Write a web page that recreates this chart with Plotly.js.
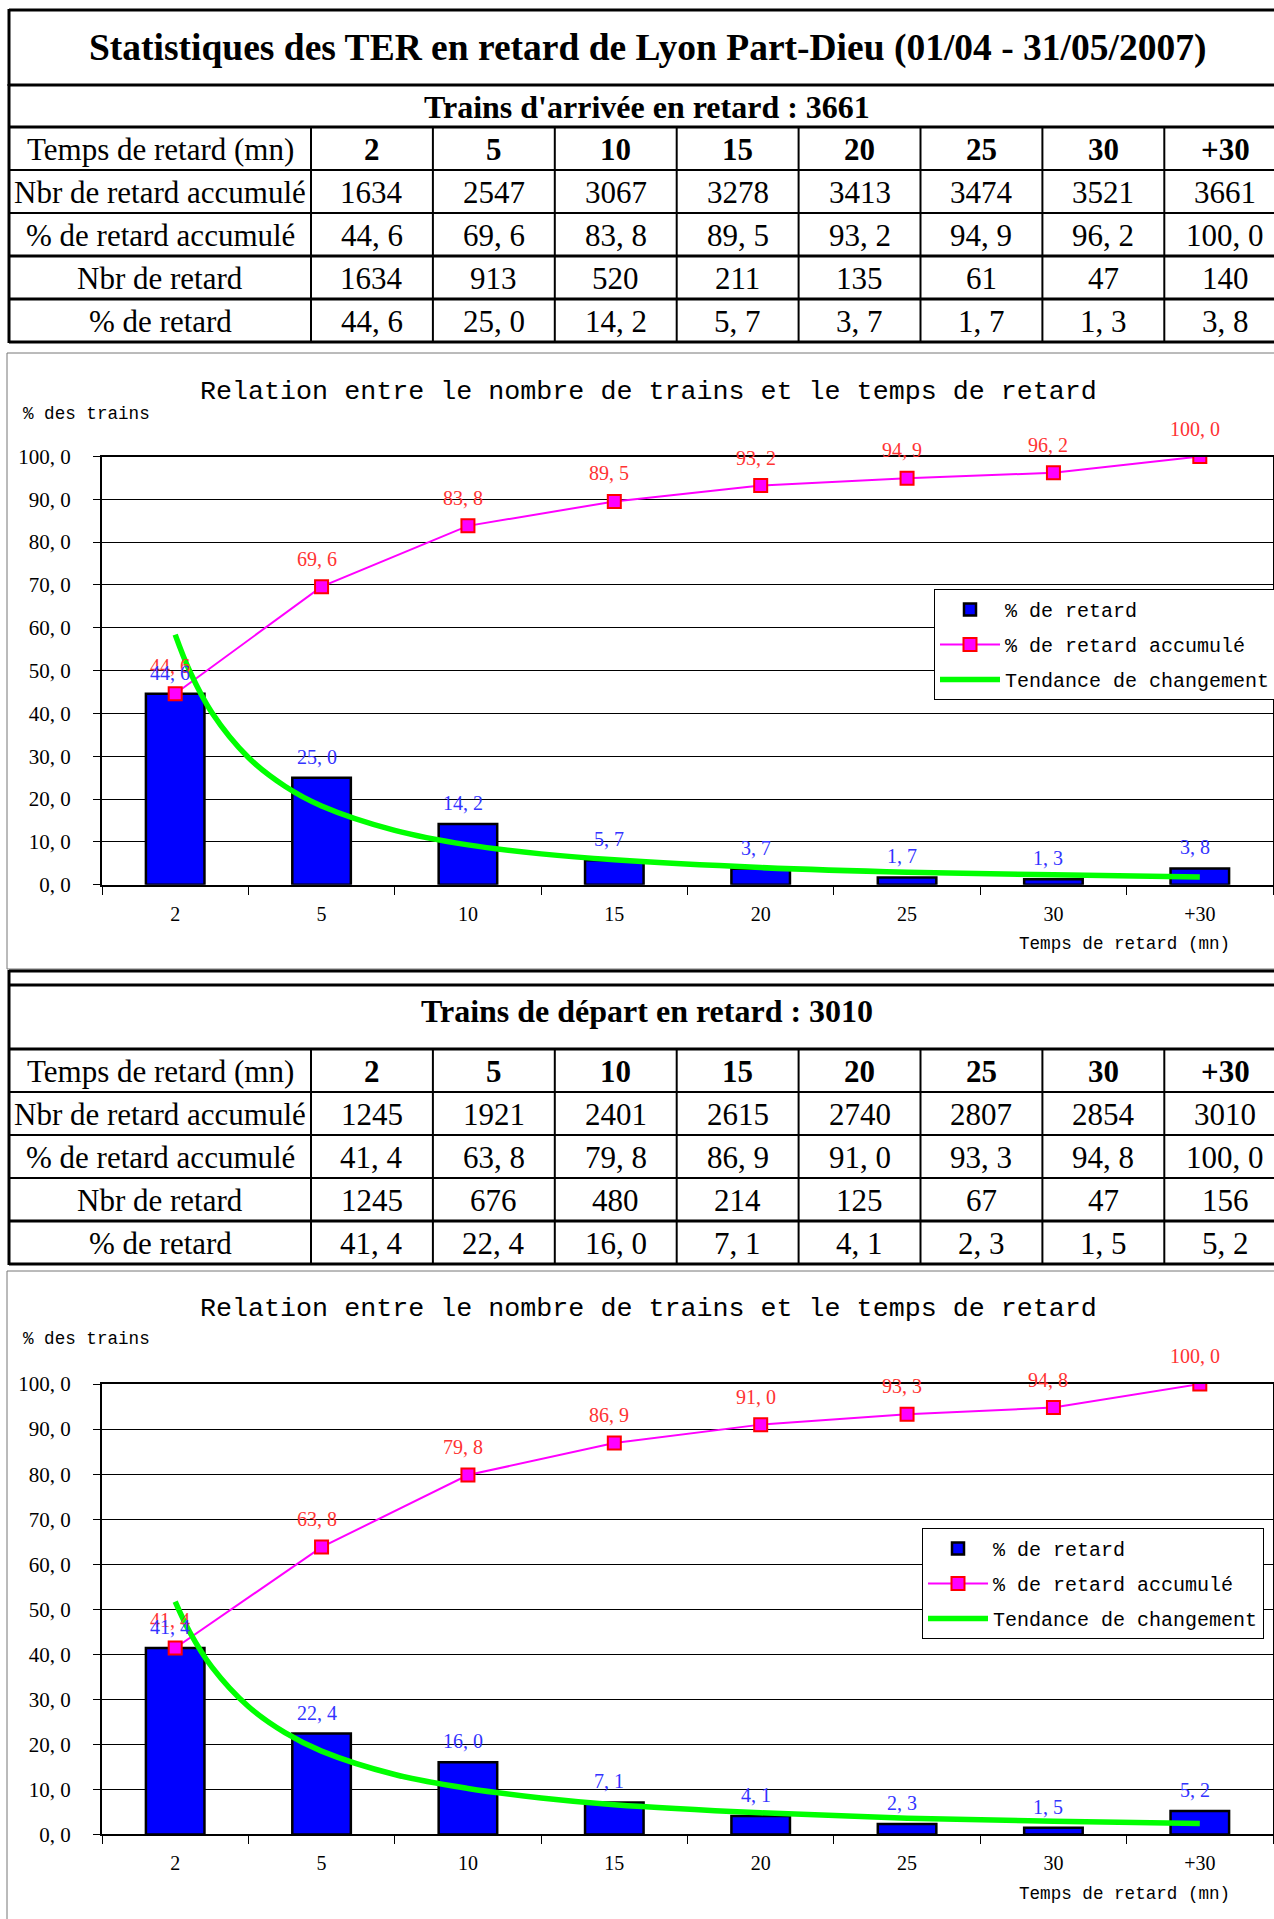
<!DOCTYPE html>
<html>
<head>
<meta charset="utf-8">
<script src="https://cdn.plot.ly/plotly-3.0.1.min.js"></script>
<style>html,body{margin:0;padding:0;background:#fff;}#chart{width:1274px;height:1919px;}</style>
</head>
<body>
<div id="chart"></div>
<script>
// ---------- DATA ----------
const pageTitle = "Statistiques des TER en retard de Lyon Part-Dieu (01/04 - 31/05/2007)";
const arrTitle = "Trains d'arrivée en retard : 3661";
const depTitle = "Trains de départ en retard : 3010";
const chartTitle = "Relation entre le nombre de trains et le temps de retard";
const yTitle = "% des trains";
const xTitle = "Temps de retard (mn)";
const rowLabels = ["Temps de retard (mn)", "Nbr de retard accumulé", "% de retard accumulé", "Nbr de retard", "% de retard"];
const categories = ["2", "5", "10", "15", "20", "25", "30", "+30"];
const yTicks = [0, 10, 20, 30, 40, 50, 60, 70, 80, 90, 100];

const arrNbrAccum = [1634, 2547, 3067, 3278, 3413, 3474, 3521, 3661];
const arrPctAccum = [44.6, 69.6, 83.8, 89.5, 93.2, 94.9, 96.2, 100.0];
const arrNbr = [1634, 913, 520, 211, 135, 61, 47, 140];
const arrPct = [44.6, 25.0, 14.2, 5.7, 3.7, 1.7, 1.3, 3.8];

const depNbrAccum = [1245, 1921, 2401, 2615, 2740, 2807, 2854, 3010];
const depPctAccum = [41.4, 63.8, 79.8, 86.9, 91.0, 93.3, 94.8, 100.0];
const depNbr = [1245, 676, 480, 214, 125, 67, 47, 156];
const depPct = [41.4, 22.4, 16.0, 7.1, 4.1, 2.3, 1.5, 5.2];

// trend curve ("Tendance de changement") at positions 1..8
const trendX = [1, 1.1, 1.25, 1.5, 1.75, 2, 2.5, 3, 3.5, 4, 5, 6, 7, 8];
const arrTrend = [58.4, 49.8, 40.2, 29.7, 23.0, 18.4, 12.7, 9.3, 7.2, 5.8, 4.0, 2.9, 2.3, 1.8];
const depTrend = [51.7, 44.9, 37.2, 28.4, 22.6, 18.5, 13.3, 10.2, 8.1, 6.6, 4.8, 3.6, 2.9, 2.4];

const seriesNames = ["% de retard", "% de retard accumulé", "Tendance de changement"];

// ---------- LAYOUT HELPERS ----------
const W = 1274, H = 1919;
const Xp = px => px / W;
const Yp = py => 1 - py / H;
const fmt1 = v => v.toFixed(1).replace('.', ', ');

const SERIF = "Liberation Serif, Times New Roman, serif";
const MONO = "Liberation Mono, Courier New, monospace";

const shapes = [];
const annotations = [];

function hline(x0, x1, y, w, c) {
  shapes.push({type: 'line', xref: 'paper', yref: 'paper', x0: Xp(x0), x1: Xp(x1), y0: Yp(y), y1: Yp(y), line: {color: c || '#000', width: w}});
}
function vline(x, y0, y1, w, c) {
  shapes.push({type: 'line', xref: 'paper', yref: 'paper', x0: Xp(x), x1: Xp(x), y0: Yp(y0), y1: Yp(y1), line: {color: c || '#000', width: w}});
}
function text(str, x, y, size, opts) {
  opts = opts || {};
  annotations.push({xref: 'paper', yref: 'paper', x: Xp(x), y: Yp(y), text: str, showarrow: false,
    xanchor: opts.xanchor || 'center', yanchor: 'middle',
    font: {family: opts.family || SERIF, size: size, color: opts.color || '#000', weight: opts.weight || 'normal'}});
}

// column geometry of the tables
const colEdges = [9, 311];
for (let i = 1; i <= categories.length; i++) colEdges.push(311 + i * 121.9);
const rowH = 43;

function drawTable(subTitle, subTop, subBottom, dataTop, rowsData, lineWidths) {
  text(subTitle, 647, (subTop + subBottom) / 2 + 1, 32, {weight: 'bold'});
  hline(9, W, subBottom, 3);
  for (let r = 0; r < 5; r++) {
    const yc = dataTop + r * rowH + rowH / 2 + 1;
    text(rowLabels[r], (colEdges[0] + colEdges[1]) / 2, yc, 31);
    const vals = rowsData[r];
    for (let c = 0; c < categories.length; c++) {
      const xc = (colEdges[c + 1] + colEdges[c + 2]) / 2;
      text(String(vals[c]), xc, yc, 31, r === 0 ? {weight: 'bold'} : {});
    }
    hline(9, W, dataTop + (r + 1) * rowH, lineWidths[r]);
  }
  for (let c = 1; c < colEdges.length; c++) vline(colEdges[c], dataTop, dataTop + 5 * rowH, 2);
  vline(9, subTop - 1, dataTop + 5 * rowH + 1, 3);
}

// ---------- TABLE 1 ----------
hline(9, W, 10, 3);
text(pageTitle, 647, 48, 37.5, {weight: 'bold'});
vline(9, 9, 86, 3);
hline(9, W, 85, 3);
drawTable(arrTitle, 85, 127, 127,
  [categories, arrNbrAccum, arrPctAccum.map(fmt1), arrNbr, arrPct.map(fmt1)],
  [2, 2, 3, 3, 3]);

// ---------- TABLE 2 ----------
hline(9, W, 971, 3);
hline(9, W, 985, 3);
drawTable(depTitle, 971, 1049, 1049,
  [categories, depNbrAccum, depPctAccum.map(fmt1), depNbr, depPct.map(fmt1)],
  [2, 2, 2, 3, 3]);

// ---------- CHART FRAMES ----------
shapes.push({type: 'rect', xref: 'paper', yref: 'paper', x0: Xp(7), x1: Xp(1290), y0: Yp(969), y1: Yp(353), line: {color: '#777', width: 1}, layer: 'below'});
shapes.push({type: 'rect', xref: 'paper', yref: 'paper', x0: Xp(7), x1: Xp(1290), y0: Yp(1930), y1: Yp(1271), line: {color: '#777', width: 1}, layer: 'below'});

// ---------- CHARTS ----------
const charts = [
  {pct: arrPct, acc: arrPctAccum, trend: arrTrend, xa: 'x', ya: 'y', xt: 'x2', legend: 'legend',
   yBottom: 884.7, yTop: 456.5, titleY: 392, yTitleY: 414, xTitleY: 944},
  {pct: depPct, acc: depPctAccum, trend: depTrend, xa: 'x3', ya: 'y3', xt: 'x4', legend: 'legend2',
   yBottom: 1834.4, yTop: 1384.1, titleY: 1309, yTitleY: 1339, xTitleY: 1894}
];

const traces = [];
const layout = {
  width: W, height: H, margin: {l: 0, r: 0, t: 0, b: 0, autoexpand: false},
  paper_bgcolor: '#fff', plot_bgcolor: '#fff',
  showlegend: true, shapes: shapes, annotations: annotations
};

charts.forEach((ch, k) => {
  const xName = ch.xa === 'x' ? 'xaxis' : 'xaxis' + ch.xa.slice(1);
  const yName = ch.ya === 'y' ? 'yaxis' : 'yaxis' + ch.ya.slice(1);
  const xtName = 'xaxis' + ch.xt.slice(1);
  const xDomain = [Xp(102), Xp(1273)];

  layout[xName] = {
    domain: xDomain, anchor: ch.ya, type: 'category', range: [-0.5, 7.5],
    categoryorder: 'array', categoryarray: categories,
    tickson: 'boundaries', ticks: 'outside', ticklen: 8, tickwidth: 1, tickcolor: '#000',
    showline: true, linecolor: '#000', linewidth: 2, mirror: true, showgrid: false, zeroline: false,
    tickfont: {family: SERIF, size: 20, color: '#000'}, ticklabelstandoff: 10, fixedrange: true
  };
  layout[yName] = {
    domain: [Yp(ch.yBottom), Yp(ch.yTop)], anchor: ch.xa, range: [0, 100],
    tickmode: 'array', tickvals: yTicks, ticktext: yTicks.map(fmt1),
    ticks: 'outside', ticklen: 7, tickwidth: 1, tickcolor: '#000',
    showline: true, linecolor: '#000', linewidth: 2, mirror: true,
    showgrid: true, gridcolor: '#000', gridwidth: 1, zeroline: false,
    tickfont: {family: SERIF, size: 21, color: '#000'}, ticklabelstandoff: 18, fixedrange: true
  };
  layout[xtName] = {overlaying: ch.xa, anchor: ch.ya, range: [0.5, 8.5], visible: false, fixedrange: true};

  traces.push({
    type: 'bar', x: categories, y: ch.pct, xaxis: ch.xa, yaxis: ch.ya, width: 0.4,
    name: seriesNames[0], legend: ch.legend, legendgroup: 'g0' + k,
    marker: {color: '#0000FF', line: {color: '#000', width: 2.5}}, hoverinfo: 'skip'
  });
  traces.push({
    type: 'scatter', mode: 'lines+markers', x: categories, y: ch.acc, xaxis: ch.xa, yaxis: ch.ya,
    name: seriesNames[1], legend: ch.legend, legendgroup: 'g1' + k,
    line: {color: '#FF00FF', width: 2},
    marker: {symbol: 'square', size: 13, color: '#FF00FF', line: {color: '#FF0000', width: 2}}, hoverinfo: 'skip'
  });
  traces.push({
    type: 'scatter', mode: 'lines', x: trendX, y: ch.trend, xaxis: ch.xt, yaxis: ch.ya,
    name: seriesNames[2], legend: ch.legend, legendgroup: 'g2' + k,
    line: {color: '#00FF00', width: 5.5, shape: 'spline'}, hoverinfo: 'skip'
  });

  // data labels (x given as category index on the category axis)
  categories.forEach((c, i) => {
    annotations.push({xref: ch.xa, yref: ch.ya, x: i, y: ch.acc[i], yshift: 28, xshift: -5, text: fmt1(ch.acc[i]),
      showarrow: false, font: {family: SERIF, size: 20, color: '#FF3333'}});
  });
  categories.forEach((c, i) => {
    annotations.push({xref: ch.xa, yref: ch.ya, x: i, y: ch.pct[i], yshift: 21, xshift: -5, text: fmt1(ch.pct[i]),
      showarrow: false, font: {family: SERIF, size: 20, color: '#3333FF'}});
  });

  text(chartTitle, 648, ch.titleY, 26.7, {family: MONO});
  text(yTitle, 21, ch.yTitleY, 17.6, {family: MONO, xanchor: 'left'});
  text(xTitle, 1232, ch.xTitleY, 17.6, {family: MONO, xanchor: 'right'});
});

const legendBase = {
  xanchor: 'right', yanchor: 'top', bgcolor: '#fff', bordercolor: '#000', borderwidth: 1,
  font: {family: MONO, size: 20, color: '#000'}, tracegroupgap: 6, itemwidth: 60, traceorder: 'grouped'
};
layout.legend = Object.assign({}, legendBase, {x: Xp(1276), y: Yp(589)});
layout.legend2 = Object.assign({}, legendBase, {x: Xp(1264), y: Yp(1528)});

Plotly.newPlot('chart', traces, layout, {displayModeBar: false, staticPlot: true});
</script>
</body>
</html>
